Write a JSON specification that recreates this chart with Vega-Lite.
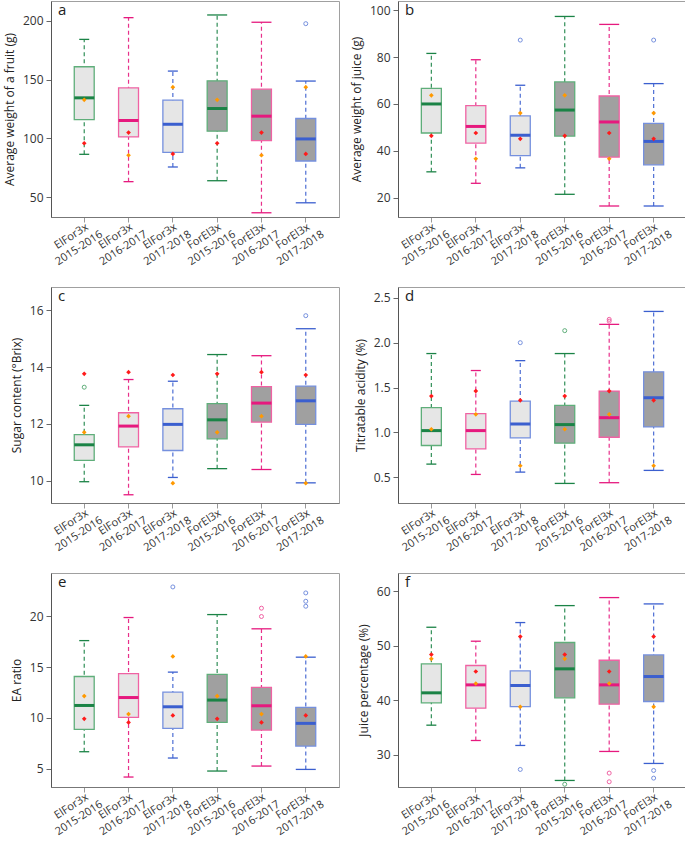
{
"$schema":"https://vega.github.io/schema/vega-lite/v6.json",
"padding":{"left":2,"top":0,"right":2,"bottom":0},
"columns":2,
"bounds":"flush",
"spacing":{"row":70,"column":59},
"config":{
 "font":"Open Sans",
 "view":{"stroke":"#a0a0a0","strokeWidth":1},
 "tick":{"opacity":1},
 "bar":{"opacity":1},
 "point":{"opacity":1},
 "axis":{"grid":false,"labelFontSize":12,"labelColor":"#333","titleFontSize":12,"titleFontWeight":"normal","titleColor":"#222","tickColor":"#666","domainColor":"#555","tickSize":5,"labelPadding":3,"titlePadding":6},
 "axisX":{"labelAngle":-33,"labelAlign":"center","labelBaseline":"top","labelOffset":-16,"labelPadding":9,"labelExpr":"split(datum.label,'|')","labelLineHeight":14,"labelOverlap":false,"labelFontSize":11,"domainColor":"#777","tickColor":"#999","title":null},
 "title":{"anchor":"start","frame":"group","offset":-17,"dx":7,"fontSize":15,"fontWeight":"normal","color":"#222"}
},
"datasets":{
"box":[
{"p":"a","cat":"ElFor3x|2015-2016","g":"ElFor3x","yr":"2015-2016","lo":86.4,"q1":116,"med":134.5,"q3":161,"hi":184.3},
{"p":"a","cat":"ElFor3x|2016-2017","g":"ElFor3x","yr":"2016-2017","lo":63.1,"q1":101.2,"med":115.2,"q3":143,"hi":202.8},
{"p":"a","cat":"ElFor3x|2017-2018","g":"ElFor3x","yr":"2017-2018","lo":75.6,"q1":88.1,"med":112,"q3":132.5,"hi":157.3},
{"p":"a","cat":"ForEl3x|2015-2016","g":"ForEl3x","yr":"2015-2016","lo":63.9,"q1":106.1,"med":125.4,"q3":149,"hi":205.1},
{"p":"a","cat":"ForEl3x|2016-2017","g":"ForEl3x","yr":"2016-2017","lo":36.6,"q1":98.1,"med":118.9,"q3":141.9,"hi":198.9},
{"p":"a","cat":"ForEl3x|2017-2018","g":"ForEl3x","yr":"2017-2018","lo":45.1,"q1":80.7,"med":99.5,"q3":116.9,"hi":148.8},
{"p":"b","cat":"ElFor3x|2015-2016","g":"ElFor3x","yr":"2015-2016","lo":31,"q1":47.6,"med":60,"q3":66.7,"hi":81.6},
{"p":"b","cat":"ElFor3x|2016-2017","g":"ElFor3x","yr":"2016-2017","lo":26.1,"q1":43.3,"med":50.4,"q3":59.3,"hi":78.9},
{"p":"b","cat":"ElFor3x|2017-2018","g":"ElFor3x","yr":"2017-2018","lo":32.7,"q1":37.9,"med":46.6,"q3":54.9,"hi":68},
{"p":"b","cat":"ForEl3x|2015-2016","g":"ForEl3x","yr":"2015-2016","lo":21.4,"q1":46.3,"med":57.4,"q3":69.4,"hi":97.4},
{"p":"b","cat":"ForEl3x|2016-2017","g":"ForEl3x","yr":"2016-2017","lo":16.4,"q1":37.3,"med":52.3,"q3":63.4,"hi":94},
{"p":"b","cat":"ForEl3x|2017-2018","g":"ForEl3x","yr":"2017-2018","lo":16.4,"q1":34,"med":44,"q3":51.7,"hi":68.7},
{"p":"c","cat":"ElFor3x|2015-2016","g":"ElFor3x","yr":"2015-2016","lo":9.96,"q1":10.71,"med":11.26,"q3":11.62,"hi":12.65},
{"p":"c","cat":"ElFor3x|2016-2017","g":"ElFor3x","yr":"2016-2017","lo":9.5,"q1":11.19,"med":11.92,"q3":12.39,"hi":13.56},
{"p":"c","cat":"ElFor3x|2017-2018","g":"ElFor3x","yr":"2017-2018","lo":10.11,"q1":11.06,"med":11.98,"q3":12.53,"hi":13.5},
{"p":"c","cat":"ForEl3x|2015-2016","g":"ForEl3x","yr":"2015-2016","lo":10.42,"q1":11.47,"med":12.14,"q3":12.71,"hi":14.44},
{"p":"c","cat":"ForEl3x|2016-2017","g":"ForEl3x","yr":"2016-2017","lo":10.39,"q1":12.06,"med":12.73,"q3":13.31,"hi":14.4},
{"p":"c","cat":"ForEl3x|2017-2018","g":"ForEl3x","yr":"2017-2018","lo":9.92,"q1":11.98,"med":12.81,"q3":13.33,"hi":15.35},
{"p":"d","cat":"ElFor3x|2015-2016","g":"ElFor3x","yr":"2015-2016","lo":0.648,"q1":0.855,"med":1.021,"q3":1.276,"hi":1.879},
{"p":"d","cat":"ElFor3x|2016-2017","g":"ElFor3x","yr":"2016-2017","lo":0.533,"q1":0.818,"med":1.021,"q3":1.21,"hi":1.69},
{"p":"d","cat":"ElFor3x|2017-2018","g":"ElFor3x","yr":"2017-2018","lo":0.559,"q1":0.94,"med":1.095,"q3":1.35,"hi":1.8},
{"p":"d","cat":"ForEl3x|2015-2016","g":"ForEl3x","yr":"2015-2016","lo":0.433,"q1":0.881,"med":1.088,"q3":1.302,"hi":1.879},
{"p":"d","cat":"ForEl3x|2016-2017","g":"ForEl3x","yr":"2016-2017","lo":0.441,"q1":0.947,"med":1.165,"q3":1.461,"hi":2.204},
{"p":"d","cat":"ForEl3x|2017-2018","g":"ForEl3x","yr":"2017-2018","lo":0.578,"q1":1.062,"med":1.387,"q3":1.676,"hi":2.348},
{"p":"e","cat":"ElFor3x|2015-2016","g":"ElFor3x","yr":"2015-2016","lo":6.67,"q1":8.86,"med":11.22,"q3":14.07,"hi":17.6},
{"p":"e","cat":"ElFor3x|2016-2017","g":"ElFor3x","yr":"2016-2017","lo":4.18,"q1":10.04,"med":12.0,"q3":14.36,"hi":19.87},
{"p":"e","cat":"ElFor3x|2017-2018","g":"ElFor3x","yr":"2017-2018","lo":6.05,"q1":8.96,"med":11.09,"q3":12.53,"hi":14.5},
{"p":"e","cat":"ForEl3x|2015-2016","g":"ForEl3x","yr":"2015-2016","lo":4.77,"q1":9.55,"med":11.75,"q3":14.27,"hi":20.16},
{"p":"e","cat":"ForEl3x|2016-2017","g":"ForEl3x","yr":"2016-2017","lo":5.26,"q1":8.8,"med":11.19,"q3":12.99,"hi":18.76},
{"p":"e","cat":"ForEl3x|2017-2018","g":"ForEl3x","yr":"2017-2018","lo":4.93,"q1":7.23,"med":9.46,"q3":11.03,"hi":15.97},
{"p":"f","cat":"ElFor3x|2015-2016","g":"ElFor3x","yr":"2015-2016","lo":35.44,"q1":39.54,"med":41.37,"q3":46.68,"hi":53.4},
{"p":"f","cat":"ElFor3x|2016-2017","g":"ElFor3x","yr":"2016-2017","lo":32.63,"q1":38.56,"med":42.83,"q3":46.38,"hi":50.84},
{"p":"f","cat":"ElFor3x|2017-2018","g":"ElFor3x","yr":"2017-2018","lo":31.72,"q1":38.86,"med":42.71,"q3":45.4,"hi":54.26},
{"p":"f","cat":"ForEl3x|2015-2016","g":"ForEl3x","yr":"2015-2016","lo":25.3,"q1":40.45,"med":45.77,"q3":50.6,"hi":57.37},
{"p":"f","cat":"ForEl3x|2016-2017","g":"ForEl3x","yr":"2016-2017","lo":30.62,"q1":39.29,"med":42.83,"q3":47.35,"hi":58.84},
{"p":"f","cat":"ForEl3x|2017-2018","g":"ForEl3x","yr":"2017-2018","lo":28.42,"q1":39.78,"med":44.36,"q3":48.33,"hi":57.68}
],
"pts":[
{"p":"a","cat":"ForEl3x|2017-2018","yr":"2017-2018","kind":"out","v":197.7},
{"p":"a","cat":"ElFor3x|2015-2016","yr":"2015-2016","kind":"P1","v":95.8},
{"p":"a","cat":"ElFor3x|2016-2017","yr":"2016-2017","kind":"P1","v":104.9},
{"p":"a","cat":"ElFor3x|2017-2018","yr":"2017-2018","kind":"P1","v":86.7},
{"p":"a","cat":"ForEl3x|2015-2016","yr":"2015-2016","kind":"P1","v":95.8},
{"p":"a","cat":"ForEl3x|2016-2017","yr":"2016-2017","kind":"P1","v":104.9},
{"p":"a","cat":"ForEl3x|2017-2018","yr":"2017-2018","kind":"P1","v":86.7},
{"p":"a","cat":"ElFor3x|2015-2016","yr":"2015-2016","kind":"P2","v":132.8},
{"p":"a","cat":"ElFor3x|2016-2017","yr":"2016-2017","kind":"P2","v":85.6},
{"p":"a","cat":"ElFor3x|2017-2018","yr":"2017-2018","kind":"P2","v":143.6},
{"p":"a","cat":"ForEl3x|2015-2016","yr":"2015-2016","kind":"P2","v":132.8},
{"p":"a","cat":"ForEl3x|2016-2017","yr":"2016-2017","kind":"P2","v":85.6},
{"p":"a","cat":"ForEl3x|2017-2018","yr":"2017-2018","kind":"P2","v":143.6},
{"p":"b","cat":"ElFor3x|2017-2018","yr":"2017-2018","kind":"out","v":87.3},
{"p":"b","cat":"ForEl3x|2017-2018","yr":"2017-2018","kind":"out","v":87.3},
{"p":"b","cat":"ElFor3x|2015-2016","yr":"2015-2016","kind":"P1","v":46.4},
{"p":"b","cat":"ElFor3x|2016-2017","yr":"2016-2017","kind":"P1","v":47.6},
{"p":"b","cat":"ElFor3x|2017-2018","yr":"2017-2018","kind":"P1","v":45.1},
{"p":"b","cat":"ForEl3x|2015-2016","yr":"2015-2016","kind":"P1","v":46.4},
{"p":"b","cat":"ForEl3x|2016-2017","yr":"2016-2017","kind":"P1","v":47.6},
{"p":"b","cat":"ForEl3x|2017-2018","yr":"2017-2018","kind":"P1","v":45.1},
{"p":"b","cat":"ElFor3x|2015-2016","yr":"2015-2016","kind":"P2","v":63.7},
{"p":"b","cat":"ElFor3x|2016-2017","yr":"2016-2017","kind":"P2","v":36.6},
{"p":"b","cat":"ElFor3x|2017-2018","yr":"2017-2018","kind":"P2","v":56.1},
{"p":"b","cat":"ForEl3x|2015-2016","yr":"2015-2016","kind":"P2","v":63.7},
{"p":"b","cat":"ForEl3x|2016-2017","yr":"2016-2017","kind":"P2","v":36.6},
{"p":"b","cat":"ForEl3x|2017-2018","yr":"2017-2018","kind":"P2","v":56.1},
{"p":"c","cat":"ElFor3x|2015-2016","yr":"2015-2016","kind":"out","v":13.29},
{"p":"c","cat":"ForEl3x|2017-2018","yr":"2017-2018","kind":"out","v":15.81},
{"p":"c","cat":"ElFor3x|2015-2016","yr":"2015-2016","kind":"P1","v":13.76},
{"p":"c","cat":"ElFor3x|2016-2017","yr":"2016-2017","kind":"P1","v":13.82},
{"p":"c","cat":"ElFor3x|2017-2018","yr":"2017-2018","kind":"P1","v":13.72},
{"p":"c","cat":"ForEl3x|2015-2016","yr":"2015-2016","kind":"P1","v":13.76},
{"p":"c","cat":"ForEl3x|2016-2017","yr":"2016-2017","kind":"P1","v":13.82},
{"p":"c","cat":"ForEl3x|2017-2018","yr":"2017-2018","kind":"P1","v":13.72},
{"p":"c","cat":"ElFor3x|2015-2016","yr":"2015-2016","kind":"P2","v":11.7},
{"p":"c","cat":"ElFor3x|2016-2017","yr":"2016-2017","kind":"P2","v":12.27},
{"p":"c","cat":"ElFor3x|2017-2018","yr":"2017-2018","kind":"P2","v":9.91},
{"p":"c","cat":"ForEl3x|2015-2016","yr":"2015-2016","kind":"P2","v":11.7},
{"p":"c","cat":"ForEl3x|2016-2017","yr":"2016-2017","kind":"P2","v":12.27},
{"p":"c","cat":"ForEl3x|2017-2018","yr":"2017-2018","kind":"P2","v":9.91},
{"p":"d","cat":"ElFor3x|2017-2018","yr":"2017-2018","kind":"out","v":2.0},
{"p":"d","cat":"ForEl3x|2015-2016","yr":"2015-2016","kind":"out","v":2.134},
{"p":"d","cat":"ForEl3x|2016-2017","yr":"2016-2017","kind":"out","v":2.26},
{"p":"d","cat":"ForEl3x|2016-2017","yr":"2016-2017","kind":"out","v":2.24},
{"p":"d","cat":"ElFor3x|2015-2016","yr":"2015-2016","kind":"P1","v":1.406},
{"p":"d","cat":"ElFor3x|2016-2017","yr":"2016-2017","kind":"P1","v":1.461},
{"p":"d","cat":"ElFor3x|2017-2018","yr":"2017-2018","kind":"P1","v":1.358},
{"p":"d","cat":"ForEl3x|2015-2016","yr":"2015-2016","kind":"P1","v":1.406},
{"p":"d","cat":"ForEl3x|2016-2017","yr":"2016-2017","kind":"P1","v":1.461},
{"p":"d","cat":"ForEl3x|2017-2018","yr":"2017-2018","kind":"P1","v":1.358},
{"p":"d","cat":"ElFor3x|2015-2016","yr":"2015-2016","kind":"P2","v":1.036},
{"p":"d","cat":"ElFor3x|2016-2017","yr":"2016-2017","kind":"P2","v":1.202},
{"p":"d","cat":"ElFor3x|2017-2018","yr":"2017-2018","kind":"P2","v":0.63},
{"p":"d","cat":"ForEl3x|2015-2016","yr":"2015-2016","kind":"P2","v":1.036},
{"p":"d","cat":"ForEl3x|2016-2017","yr":"2016-2017","kind":"P2","v":1.202},
{"p":"d","cat":"ForEl3x|2017-2018","yr":"2017-2018","kind":"P2","v":0.63},
{"p":"e","cat":"ElFor3x|2017-2018","yr":"2017-2018","kind":"out","v":22.88},
{"p":"e","cat":"ForEl3x|2016-2017","yr":"2016-2017","kind":"out","v":20.79},
{"p":"e","cat":"ForEl3x|2016-2017","yr":"2016-2017","kind":"out","v":19.97},
{"p":"e","cat":"ForEl3x|2017-2018","yr":"2017-2018","kind":"out","v":22.29},
{"p":"e","cat":"ForEl3x|2017-2018","yr":"2017-2018","kind":"out","v":21.47},
{"p":"e","cat":"ForEl3x|2017-2018","yr":"2017-2018","kind":"out","v":20.98},
{"p":"e","cat":"ElFor3x|2015-2016","yr":"2015-2016","kind":"P1","v":9.91},
{"p":"e","cat":"ElFor3x|2016-2017","yr":"2016-2017","kind":"P1","v":9.55},
{"p":"e","cat":"ElFor3x|2017-2018","yr":"2017-2018","kind":"P1","v":10.24},
{"p":"e","cat":"ForEl3x|2015-2016","yr":"2015-2016","kind":"P1","v":9.91},
{"p":"e","cat":"ForEl3x|2016-2017","yr":"2016-2017","kind":"P1","v":9.55},
{"p":"e","cat":"ForEl3x|2017-2018","yr":"2017-2018","kind":"P1","v":10.24},
{"p":"e","cat":"ElFor3x|2015-2016","yr":"2015-2016","kind":"P2","v":12.14},
{"p":"e","cat":"ElFor3x|2016-2017","yr":"2016-2017","kind":"P2","v":10.37},
{"p":"e","cat":"ElFor3x|2017-2018","yr":"2017-2018","kind":"P2","v":16.04},
{"p":"e","cat":"ForEl3x|2015-2016","yr":"2015-2016","kind":"P2","v":12.14},
{"p":"e","cat":"ForEl3x|2016-2017","yr":"2016-2017","kind":"P2","v":10.37},
{"p":"e","cat":"ForEl3x|2017-2018","yr":"2017-2018","kind":"P2","v":16.04},
{"p":"f","cat":"ElFor3x|2017-2018","yr":"2017-2018","kind":"out","v":27.32},
{"p":"f","cat":"ForEl3x|2015-2016","yr":"2015-2016","kind":"out","v":24.6},
{"p":"f","cat":"ForEl3x|2016-2017","yr":"2016-2017","kind":"out","v":26.65},
{"p":"f","cat":"ForEl3x|2016-2017","yr":"2016-2017","kind":"out","v":25.06},
{"p":"f","cat":"ForEl3x|2017-2018","yr":"2017-2018","kind":"out","v":27.13},
{"p":"f","cat":"ForEl3x|2017-2018","yr":"2017-2018","kind":"out","v":25.73},
{"p":"f","cat":"ElFor3x|2015-2016","yr":"2015-2016","kind":"P1","v":48.39},
{"p":"f","cat":"ElFor3x|2016-2017","yr":"2016-2017","kind":"P1","v":45.28},
{"p":"f","cat":"ElFor3x|2017-2018","yr":"2017-2018","kind":"P1","v":51.69},
{"p":"f","cat":"ForEl3x|2015-2016","yr":"2015-2016","kind":"P1","v":48.39},
{"p":"f","cat":"ForEl3x|2016-2017","yr":"2016-2017","kind":"P1","v":45.28},
{"p":"f","cat":"ForEl3x|2017-2018","yr":"2017-2018","kind":"P1","v":51.69},
{"p":"f","cat":"ElFor3x|2015-2016","yr":"2015-2016","kind":"P2","v":47.6},
{"p":"f","cat":"ElFor3x|2016-2017","yr":"2016-2017","kind":"P2","v":43.08},
{"p":"f","cat":"ElFor3x|2017-2018","yr":"2017-2018","kind":"P2","v":38.8},
{"p":"f","cat":"ForEl3x|2015-2016","yr":"2015-2016","kind":"P2","v":47.6},
{"p":"f","cat":"ForEl3x|2016-2017","yr":"2016-2017","kind":"P2","v":43.08},
{"p":"f","cat":"ForEl3x|2017-2018","yr":"2017-2018","kind":"P2","v":38.8}
]
},
"concat":[
{"width":288,"height":216,"title":{"text":"a"},
 "layer":[
  {"data":{"name":"box"},"transform":[{"filter":"datum.p==='a'"}],"mark":{"type":"rule","strokeDash":[4,3],"strokeWidth":1.2,"opacity":0.9},
   "encoding":{"x":{"field":"cat","type":"nominal","scale":{"paddingInner":0.55,"paddingOuter":0.525}},
    "y":{"field":"lo","type":"quantitative","scale":{"domain":[33,217],"nice":false,"zero":false},"axis":{"title":"Average weight of a fruit (g)","values":[50,100,150,200]}},
    "y2":{"field":"hi"},
    "color":{"field":"yr","type":"nominal","scale":{"domain":["2015-2016","2016-2017","2017-2018","P1","P2"],"range":["#1b8346","#e6197e","#3b5fcf","#ff1a1a","#ff9900"]},"legend":null}}},
  {"data":{"name":"box"},"transform":[{"filter":"datum.p==='a'"}],"mark":{"type":"tick","thickness":1.3,"opacity":1},
   "encoding":{"x":{"field":"cat","type":"nominal"},"y":{"field":"lo","type":"quantitative"},"color":{"field":"yr","type":"nominal","legend":null},
    "size":{"field":"g","type":"nominal","scale":{"domain":["ElFor3x","ForEl3x"],"range":[10,20]},"legend":null}}},
  {"data":{"name":"box"},"transform":[{"filter":"datum.p==='a'"}],"mark":{"type":"tick","thickness":1.3,"opacity":1},
   "encoding":{"x":{"field":"cat","type":"nominal"},"y":{"field":"hi","type":"quantitative"},"color":{"field":"yr","type":"nominal","legend":null},
    "size":{"field":"g","type":"nominal","legend":null}}},
  {"data":{"name":"box"},"transform":[{"filter":"datum.p==='a'"}],"mark":{"type":"bar","strokeWidth":1.3,"opacity":1},
   "encoding":{"x":{"field":"cat","type":"nominal"},"y":{"field":"q1","type":"quantitative"},"y2":{"field":"q3"},
    "fill":{"field":"g","type":"nominal","scale":{"domain":["ElFor3x","ForEl3x"],"range":["#e6e6e6","#a0a0a0"]},"legend":null},
    "stroke":{"field":"yr","type":"nominal","scale":{"domain":["2015-2016","2016-2017","2017-2018"],"range":["#5fae7a","#f062a3","#7590de"]},"legend":null}}},
  {"data":{"name":"box"},"transform":[{"filter":"datum.p==='a'"}],"mark":{"type":"tick","thickness":3,"size":20,"opacity":1},
   "encoding":{"x":{"field":"cat","type":"nominal"},"y":{"field":"med","type":"quantitative"},"color":{"field":"yr","type":"nominal","legend":null}}},
  {"data":{"name":"pts"},"transform":[{"filter":"datum.p==='a' && datum.kind==='out'"}],"mark":{"type":"point","shape":"circle","filled":false,"size":16,"strokeWidth":1,"opacity":1},
   "encoding":{"x":{"field":"cat","type":"nominal"},"y":{"field":"v","type":"quantitative"},"stroke":{"field":"yr","type":"nominal","legend":null}}},
  {"data":{"name":"pts"},"transform":[{"filter":"datum.p==='a' && datum.kind!=='out'"}],"mark":{"type":"point","shape":"diamond","filled":true,"size":22,"opacity":1},
   "encoding":{"x":{"field":"cat","type":"nominal"},"y":{"field":"v","type":"quantitative"},"color":{"field":"kind","type":"nominal","legend":null}}}
 ]},
{"width":289,"height":216,"title":{"text":"b"},
 "layer":[
  {"data":{"name":"box"},"transform":[{"filter":"datum.p==='b'"}],"mark":{"type":"rule","strokeDash":[4,3],"strokeWidth":1.2,"opacity":0.9},
   "encoding":{"x":{"field":"cat","type":"nominal","scale":{"paddingInner":0.55,"paddingOuter":0.525}},
    "y":{"field":"lo","type":"quantitative","scale":{"domain":[11.7,104],"nice":false,"zero":false},"axis":{"title":"Average weight of juice (g)","values":[20,40,60,80,100]}},
    "y2":{"field":"hi"},
    "color":{"field":"yr","type":"nominal","scale":{"domain":["2015-2016","2016-2017","2017-2018","P1","P2"],"range":["#1b8346","#e6197e","#3b5fcf","#ff1a1a","#ff9900"]},"legend":null}}},
  {"data":{"name":"box"},"transform":[{"filter":"datum.p==='b'"}],"mark":{"type":"tick","thickness":1.3,"opacity":1},
   "encoding":{"x":{"field":"cat","type":"nominal"},"y":{"field":"lo","type":"quantitative"},"color":{"field":"yr","type":"nominal","legend":null},
    "size":{"field":"g","type":"nominal","scale":{"domain":["ElFor3x","ForEl3x"],"range":[10,20]},"legend":null}}},
  {"data":{"name":"box"},"transform":[{"filter":"datum.p==='b'"}],"mark":{"type":"tick","thickness":1.3,"opacity":1},
   "encoding":{"x":{"field":"cat","type":"nominal"},"y":{"field":"hi","type":"quantitative"},"color":{"field":"yr","type":"nominal","legend":null},
    "size":{"field":"g","type":"nominal","legend":null}}},
  {"data":{"name":"box"},"transform":[{"filter":"datum.p==='b'"}],"mark":{"type":"bar","strokeWidth":1.3,"opacity":1},
   "encoding":{"x":{"field":"cat","type":"nominal"},"y":{"field":"q1","type":"quantitative"},"y2":{"field":"q3"},
    "fill":{"field":"g","type":"nominal","scale":{"domain":["ElFor3x","ForEl3x"],"range":["#e6e6e6","#a0a0a0"]},"legend":null},
    "stroke":{"field":"yr","type":"nominal","scale":{"domain":["2015-2016","2016-2017","2017-2018"],"range":["#5fae7a","#f062a3","#7590de"]},"legend":null}}},
  {"data":{"name":"box"},"transform":[{"filter":"datum.p==='b'"}],"mark":{"type":"tick","thickness":3,"size":20,"opacity":1},
   "encoding":{"x":{"field":"cat","type":"nominal"},"y":{"field":"med","type":"quantitative"},"color":{"field":"yr","type":"nominal","legend":null}}},
  {"data":{"name":"pts"},"transform":[{"filter":"datum.p==='b' && datum.kind==='out'"}],"mark":{"type":"point","shape":"circle","filled":false,"size":16,"strokeWidth":1,"opacity":1},
   "encoding":{"x":{"field":"cat","type":"nominal"},"y":{"field":"v","type":"quantitative"},"stroke":{"field":"yr","type":"nominal","legend":null}}},
  {"data":{"name":"pts"},"transform":[{"filter":"datum.p==='b' && datum.kind!=='out'"}],"mark":{"type":"point","shape":"diamond","filled":true,"size":22,"opacity":1},
   "encoding":{"x":{"field":"cat","type":"nominal"},"y":{"field":"v","type":"quantitative"},"color":{"field":"kind","type":"nominal","legend":null}}}
 ]},
{"width":288,"height":216,"title":{"text":"c"},
 "layer":[
  {"data":{"name":"box"},"transform":[{"filter":"datum.p==='c'"}],"mark":{"type":"rule","strokeDash":[4,3],"strokeWidth":1.2,"opacity":0.9},
   "encoding":{"x":{"field":"cat","type":"nominal","scale":{"paddingInner":0.55,"paddingOuter":0.525}},
    "y":{"field":"lo","type":"quantitative","scale":{"domain":[9.21,16.82],"nice":false,"zero":false},"axis":{"title":"Sugar content (°Brix)","values":[10,11,12,13,14,15,16]}},
    "y2":{"field":"hi"},
    "color":{"field":"yr","type":"nominal","scale":{"domain":["2015-2016","2016-2017","2017-2018","P1","P2"],"range":["#1b8346","#e6197e","#3b5fcf","#ff1a1a","#ff9900"]},"legend":null}}},
  {"data":{"name":"box"},"transform":[{"filter":"datum.p==='c'"}],"mark":{"type":"tick","thickness":1.3,"opacity":1},
   "encoding":{"x":{"field":"cat","type":"nominal"},"y":{"field":"lo","type":"quantitative"},"color":{"field":"yr","type":"nominal","legend":null},
    "size":{"field":"g","type":"nominal","scale":{"domain":["ElFor3x","ForEl3x"],"range":[10,20]},"legend":null}}},
  {"data":{"name":"box"},"transform":[{"filter":"datum.p==='c'"}],"mark":{"type":"tick","thickness":1.3,"opacity":1},
   "encoding":{"x":{"field":"cat","type":"nominal"},"y":{"field":"hi","type":"quantitative"},"color":{"field":"yr","type":"nominal","legend":null},
    "size":{"field":"g","type":"nominal","legend":null}}},
  {"data":{"name":"box"},"transform":[{"filter":"datum.p==='c'"}],"mark":{"type":"bar","strokeWidth":1.3,"opacity":1},
   "encoding":{"x":{"field":"cat","type":"nominal"},"y":{"field":"q1","type":"quantitative"},"y2":{"field":"q3"},
    "fill":{"field":"g","type":"nominal","scale":{"domain":["ElFor3x","ForEl3x"],"range":["#e6e6e6","#a0a0a0"]},"legend":null},
    "stroke":{"field":"yr","type":"nominal","scale":{"domain":["2015-2016","2016-2017","2017-2018"],"range":["#5fae7a","#f062a3","#7590de"]},"legend":null}}},
  {"data":{"name":"box"},"transform":[{"filter":"datum.p==='c'"}],"mark":{"type":"tick","thickness":3,"size":20,"opacity":1},
   "encoding":{"x":{"field":"cat","type":"nominal"},"y":{"field":"med","type":"quantitative"},"color":{"field":"yr","type":"nominal","legend":null}}},
  {"data":{"name":"pts"},"transform":[{"filter":"datum.p==='c' && datum.kind==='out'"}],"mark":{"type":"point","shape":"circle","filled":false,"size":16,"strokeWidth":1,"opacity":1},
   "encoding":{"x":{"field":"cat","type":"nominal"},"y":{"field":"v","type":"quantitative"},"stroke":{"field":"yr","type":"nominal","legend":null}}},
  {"data":{"name":"pts"},"transform":[{"filter":"datum.p==='c' && datum.kind!=='out'"}],"mark":{"type":"point","shape":"diamond","filled":true,"size":22,"opacity":1},
   "encoding":{"x":{"field":"cat","type":"nominal"},"y":{"field":"v","type":"quantitative"},"color":{"field":"kind","type":"nominal","legend":null}}}
 ]},
{"width":289,"height":216,"title":{"text":"d"},
 "layer":[
  {"data":{"name":"box"},"transform":[{"filter":"datum.p==='d'"}],"mark":{"type":"rule","strokeDash":[4,3],"strokeWidth":1.2,"opacity":0.9},
   "encoding":{"x":{"field":"cat","type":"nominal","scale":{"paddingInner":0.55,"paddingOuter":0.525}},
    "y":{"field":"lo","type":"quantitative","scale":{"domain":[0.215,2.62],"nice":false,"zero":false},"axis":{"title":"Titratable acidity (%)","values":[0.5,1,1.5,2,2.5],"format":".1f"}},
    "y2":{"field":"hi"},
    "color":{"field":"yr","type":"nominal","scale":{"domain":["2015-2016","2016-2017","2017-2018","P1","P2"],"range":["#1b8346","#e6197e","#3b5fcf","#ff1a1a","#ff9900"]},"legend":null}}},
  {"data":{"name":"box"},"transform":[{"filter":"datum.p==='d'"}],"mark":{"type":"tick","thickness":1.3,"opacity":1},
   "encoding":{"x":{"field":"cat","type":"nominal"},"y":{"field":"lo","type":"quantitative"},"color":{"field":"yr","type":"nominal","legend":null},
    "size":{"field":"g","type":"nominal","scale":{"domain":["ElFor3x","ForEl3x"],"range":[10,20]},"legend":null}}},
  {"data":{"name":"box"},"transform":[{"filter":"datum.p==='d'"}],"mark":{"type":"tick","thickness":1.3,"opacity":1},
   "encoding":{"x":{"field":"cat","type":"nominal"},"y":{"field":"hi","type":"quantitative"},"color":{"field":"yr","type":"nominal","legend":null},
    "size":{"field":"g","type":"nominal","legend":null}}},
  {"data":{"name":"box"},"transform":[{"filter":"datum.p==='d'"}],"mark":{"type":"bar","strokeWidth":1.3,"opacity":1},
   "encoding":{"x":{"field":"cat","type":"nominal"},"y":{"field":"q1","type":"quantitative"},"y2":{"field":"q3"},
    "fill":{"field":"g","type":"nominal","scale":{"domain":["ElFor3x","ForEl3x"],"range":["#e6e6e6","#a0a0a0"]},"legend":null},
    "stroke":{"field":"yr","type":"nominal","scale":{"domain":["2015-2016","2016-2017","2017-2018"],"range":["#5fae7a","#f062a3","#7590de"]},"legend":null}}},
  {"data":{"name":"box"},"transform":[{"filter":"datum.p==='d'"}],"mark":{"type":"tick","thickness":3,"size":20,"opacity":1},
   "encoding":{"x":{"field":"cat","type":"nominal"},"y":{"field":"med","type":"quantitative"},"color":{"field":"yr","type":"nominal","legend":null}}},
  {"data":{"name":"pts"},"transform":[{"filter":"datum.p==='d' && datum.kind==='out'"}],"mark":{"type":"point","shape":"circle","filled":false,"size":16,"strokeWidth":1,"opacity":1},
   "encoding":{"x":{"field":"cat","type":"nominal"},"y":{"field":"v","type":"quantitative"},"stroke":{"field":"yr","type":"nominal","legend":null}}},
  {"data":{"name":"pts"},"transform":[{"filter":"datum.p==='d' && datum.kind!=='out'"}],"mark":{"type":"point","shape":"diamond","filled":true,"size":22,"opacity":1},
   "encoding":{"x":{"field":"cat","type":"nominal"},"y":{"field":"v","type":"quantitative"},"color":{"field":"kind","type":"nominal","legend":null}}}
 ]},
{"width":288,"height":214,"title":{"text":"e"},
 "layer":[
  {"data":{"name":"box"},"transform":[{"filter":"datum.p==='e'"}],"mark":{"type":"rule","strokeDash":[4,3],"strokeWidth":1.2,"opacity":0.9},
   "encoding":{"x":{"field":"cat","type":"nominal","scale":{"paddingInner":0.55,"paddingOuter":0.525}},
    "y":{"field":"lo","type":"quantitative","scale":{"domain":[3.2,24.25],"nice":false,"zero":false},"axis":{"title":"EA ratio","values":[5,10,15,20]}},
    "y2":{"field":"hi"},
    "color":{"field":"yr","type":"nominal","scale":{"domain":["2015-2016","2016-2017","2017-2018","P1","P2"],"range":["#1b8346","#e6197e","#3b5fcf","#ff1a1a","#ff9900"]},"legend":null}}},
  {"data":{"name":"box"},"transform":[{"filter":"datum.p==='e'"}],"mark":{"type":"tick","thickness":1.3,"opacity":1},
   "encoding":{"x":{"field":"cat","type":"nominal"},"y":{"field":"lo","type":"quantitative"},"color":{"field":"yr","type":"nominal","legend":null},
    "size":{"field":"g","type":"nominal","scale":{"domain":["ElFor3x","ForEl3x"],"range":[10,20]},"legend":null}}},
  {"data":{"name":"box"},"transform":[{"filter":"datum.p==='e'"}],"mark":{"type":"tick","thickness":1.3,"opacity":1},
   "encoding":{"x":{"field":"cat","type":"nominal"},"y":{"field":"hi","type":"quantitative"},"color":{"field":"yr","type":"nominal","legend":null},
    "size":{"field":"g","type":"nominal","legend":null}}},
  {"data":{"name":"box"},"transform":[{"filter":"datum.p==='e'"}],"mark":{"type":"bar","strokeWidth":1.3,"opacity":1},
   "encoding":{"x":{"field":"cat","type":"nominal"},"y":{"field":"q1","type":"quantitative"},"y2":{"field":"q3"},
    "fill":{"field":"g","type":"nominal","scale":{"domain":["ElFor3x","ForEl3x"],"range":["#e6e6e6","#a0a0a0"]},"legend":null},
    "stroke":{"field":"yr","type":"nominal","scale":{"domain":["2015-2016","2016-2017","2017-2018"],"range":["#5fae7a","#f062a3","#7590de"]},"legend":null}}},
  {"data":{"name":"box"},"transform":[{"filter":"datum.p==='e'"}],"mark":{"type":"tick","thickness":3,"size":20,"opacity":1},
   "encoding":{"x":{"field":"cat","type":"nominal"},"y":{"field":"med","type":"quantitative"},"color":{"field":"yr","type":"nominal","legend":null}}},
  {"data":{"name":"pts"},"transform":[{"filter":"datum.p==='e' && datum.kind==='out'"}],"mark":{"type":"point","shape":"circle","filled":false,"size":16,"strokeWidth":1,"opacity":1},
   "encoding":{"x":{"field":"cat","type":"nominal"},"y":{"field":"v","type":"quantitative"},"stroke":{"field":"yr","type":"nominal","legend":null}}},
  {"data":{"name":"pts"},"transform":[{"filter":"datum.p==='e' && datum.kind!=='out'"}],"mark":{"type":"point","shape":"diamond","filled":true,"size":22,"opacity":1},
   "encoding":{"x":{"field":"cat","type":"nominal"},"y":{"field":"v","type":"quantitative"},"color":{"field":"kind","type":"nominal","legend":null}}}
 ]},
{"width":289,"height":214,"title":{"text":"f"},
 "layer":[
  {"data":{"name":"box"},"transform":[{"filter":"datum.p==='f'"}],"mark":{"type":"rule","strokeDash":[4,3],"strokeWidth":1.2,"opacity":0.9},
   "encoding":{"x":{"field":"cat","type":"nominal","scale":{"paddingInner":0.55,"paddingOuter":0.525}},
    "y":{"field":"lo","type":"quantitative","scale":{"domain":[24.1,63.35],"nice":false,"zero":false},"axis":{"title":"Juice percentage (%)","values":[30,40,50,60]}},
    "y2":{"field":"hi"},
    "color":{"field":"yr","type":"nominal","scale":{"domain":["2015-2016","2016-2017","2017-2018","P1","P2"],"range":["#1b8346","#e6197e","#3b5fcf","#ff1a1a","#ff9900"]},"legend":null}}},
  {"data":{"name":"box"},"transform":[{"filter":"datum.p==='f'"}],"mark":{"type":"tick","thickness":1.3,"opacity":1},
   "encoding":{"x":{"field":"cat","type":"nominal"},"y":{"field":"lo","type":"quantitative"},"color":{"field":"yr","type":"nominal","legend":null},
    "size":{"field":"g","type":"nominal","scale":{"domain":["ElFor3x","ForEl3x"],"range":[10,20]},"legend":null}}},
  {"data":{"name":"box"},"transform":[{"filter":"datum.p==='f'"}],"mark":{"type":"tick","thickness":1.3,"opacity":1},
   "encoding":{"x":{"field":"cat","type":"nominal"},"y":{"field":"hi","type":"quantitative"},"color":{"field":"yr","type":"nominal","legend":null},
    "size":{"field":"g","type":"nominal","legend":null}}},
  {"data":{"name":"box"},"transform":[{"filter":"datum.p==='f'"}],"mark":{"type":"bar","strokeWidth":1.3,"opacity":1},
   "encoding":{"x":{"field":"cat","type":"nominal"},"y":{"field":"q1","type":"quantitative"},"y2":{"field":"q3"},
    "fill":{"field":"g","type":"nominal","scale":{"domain":["ElFor3x","ForEl3x"],"range":["#e6e6e6","#a0a0a0"]},"legend":null},
    "stroke":{"field":"yr","type":"nominal","scale":{"domain":["2015-2016","2016-2017","2017-2018"],"range":["#5fae7a","#f062a3","#7590de"]},"legend":null}}},
  {"data":{"name":"box"},"transform":[{"filter":"datum.p==='f'"}],"mark":{"type":"tick","thickness":3,"size":20,"opacity":1},
   "encoding":{"x":{"field":"cat","type":"nominal"},"y":{"field":"med","type":"quantitative"},"color":{"field":"yr","type":"nominal","legend":null}}},
  {"data":{"name":"pts"},"transform":[{"filter":"datum.p==='f' && datum.kind==='out'"}],"mark":{"type":"point","shape":"circle","filled":false,"size":16,"strokeWidth":1,"opacity":1},
   "encoding":{"x":{"field":"cat","type":"nominal"},"y":{"field":"v","type":"quantitative"},"stroke":{"field":"yr","type":"nominal","legend":null}}},
  {"data":{"name":"pts"},"transform":[{"filter":"datum.p==='f' && datum.kind!=='out'"}],"mark":{"type":"point","shape":"diamond","filled":true,"size":22,"opacity":1},
   "encoding":{"x":{"field":"cat","type":"nominal"},"y":{"field":"v","type":"quantitative"},"color":{"field":"kind","type":"nominal","legend":null}}}
 ]}
]
}
